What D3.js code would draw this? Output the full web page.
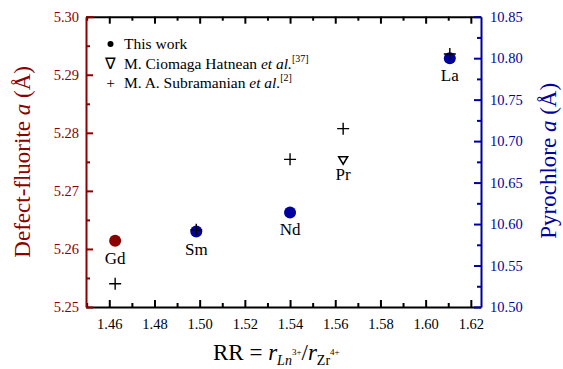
<!DOCTYPE html>
<html><head><meta charset="utf-8">
<script src="https://cdn.jsdelivr.net/npm/d3@7"></script>
<style>
html,body{margin:0;padding:0;background:#fff;}
svg, svg text, svg tspan { font-family: 'Liberation Serif', 'Times New Roman', serif !important; }
</style></head>
<body><svg id="c" width="563" height="369" font-family="Liberation Serif"></svg>
<script>
// ---- data ----
const elements = ["Gd", "Sm", "Nd", "Pr", "La"];
const rr = [1.4626, 1.4985, 1.5400, 1.5635, 1.6107];
// which lattice each element belongs to: left axis = defect fluorite, right = pyrochlore
const phase = ["fluorite", "pyrochlore", "pyrochlore", "pyrochlore", "pyrochlore"];
// This work (null = not measured)
const thisWork = [5.2614, 10.591, 10.614, null, 10.800];
// M. Ciomaga Hatnean et al.
const hatnean = [null, null, null, 10.677, null];
// M. A. Subramanian et al.
const subramanian = [5.2540, 10.593, 10.678, 10.715, 10.805];
const xTicks = [1.46, 1.48, 1.50, 1.52, 1.54, 1.56, 1.58, 1.60, 1.62];
const leftTicks = [5.25, 5.26, 5.27, 5.28, 5.29, 5.30];
const rightTicks = [10.50, 10.55, 10.60, 10.65, 10.70, 10.75, 10.80, 10.85];

const FONT = "Liberation Serif";
const RED = "#8b0000", BLUE = "#0000a0";
const svg = d3.select("#c");
const L = 86, R = 481, T = 16.7, B = 307;
const x = d3.scaleLinear().domain([1.4497, 1.6245]).range([L, R]);
const yL = d3.scaleLinear().domain([5.25, 5.30]).range([B, T]);
const yR = d3.scaleLinear().domain([10.50, 10.85]).range([B, T]);
const yOf = (i, v) => phase[i] === "fluorite" ? yL(v) : yR(v);

function styleAxis(g, color, w) {
  g.attr("font-family", FONT).attr("font-size", 14.5);
  g.selectAll("path").attr("stroke", color).attr("stroke-width", w);
  g.selectAll("line").attr("stroke", color).attr("stroke-width", 2);
  g.selectAll("text").attr("fill", color).attr("font-family", FONT).style("font-family", FONT).attr("font-size", 14.5);
}
const xMinor = d3.range(1.45, 1.625, 0.01).map(v => +v.toFixed(3)).filter(v => !xTicks.some(t => Math.abs(t - v) < 1e-6));
const lMinor = [5.255, 5.265, 5.275, 5.285, 5.295];
const rMinor = [10.525, 10.575, 10.625, 10.675, 10.725, 10.775, 10.825];

// minor ticks
svg.append("g").attr("transform", `translate(0,${B})`)
  .call(d3.axisBottom(x).tickValues(xMinor).tickSize(-4).tickFormat("")).call(g => { g.select("path").remove(); g.selectAll("text").remove(); styleAxis(g, "#000", 2); });
svg.append("g").attr("transform", `translate(0,${T})`)
  .call(d3.axisTop(x).tickValues(xMinor).tickSize(-4).tickFormat("")).call(g => { g.select("path").remove(); g.selectAll("text").remove(); styleAxis(g, "#000", 2); });
svg.append("g").attr("transform", `translate(${L},0)`)
  .call(d3.axisLeft(yL).tickValues(lMinor).tickSize(-4).tickFormat("")).call(g => { g.select("path").remove(); g.selectAll("text").remove(); styleAxis(g, RED, 2); });
svg.append("g").attr("transform", `translate(${R},0)`)
  .call(d3.axisRight(yR).tickValues(rMinor).tickSize(-4).tickFormat("")).call(g => { g.select("path").remove(); g.selectAll("text").remove(); styleAxis(g, BLUE, 2); });

// top & bottom (black)
svg.append("g").attr("transform", `translate(0,${T})`)
  .call(d3.axisTop(x).tickValues(xTicks).tickSize(-7).tickSizeOuter(0).tickFormat(""))
  .call(g => { g.selectAll("text").remove(); styleAxis(g, "#000", 2); });
svg.append("g").attr("transform", `translate(0,${B})`)
  .call(d3.axisBottom(x).tickValues(xTicks).tickSize(-7).tickSizeOuter(0).tickPadding(12).tickFormat(d3.format(".2f")))
  .call(g => styleAxis(g, "#000", 2));
// left (red) & right (blue)
svg.append("g").attr("transform", `translate(${L},0)`)
  .call(d3.axisLeft(yL).tickValues(leftTicks).tickSize(-7).tickSizeOuter(0).tickPadding(7).tickFormat(d3.format(".2f")))
  .call(g => styleAxis(g, RED, 2));
svg.append("g").attr("transform", `translate(${R},0)`)
  .call(d3.axisRight(yR).tickValues(rightTicks).tickSize(-7).tickSizeOuter(0).tickPadding(9).tickFormat(d3.format(".2f")))
  .call(g => styleAxis(g, BLUE, 2));

// axis titles
const lt = svg.append("text").attr("transform", `translate(30,${(T + B) / 2}) rotate(-90)`)
  .attr("text-anchor", "middle").attr("fill", RED).attr("font-size", 23).style("font-family", FONT);
lt.append("tspan").text("Defect-fluorite ");
lt.append("tspan").attr("font-style", "italic").text("a");
lt.append("tspan").text(" (Å)");
const rt = svg.append("text").attr("transform", `translate(556,${(T + B) / 2 - 1}) rotate(-90)`)
  .attr("text-anchor", "middle").attr("fill", BLUE).attr("font-size", 23).style("font-family", FONT);
rt.append("tspan").text("Pyrochlore ");
rt.append("tspan").attr("font-style", "italic").text("a");
rt.append("tspan").text(" (Å)");
const bt = svg.append("text").attr("x", 213).attr("y", 360).attr("fill", "#000").attr("font-size", 23).style("font-family", FONT);
bt.append("tspan").text("RR = ");
bt.append("tspan").attr("font-style", "italic").text("r");
bt.append("tspan").attr("font-style", "italic").attr("font-size", 14).attr("dy", 5).text("Ln");
bt.append("tspan").attr("font-size", 9).attr("dy", -10).text("3+");
bt.append("tspan").attr("dy", 5).text("/");
bt.append("tspan").attr("font-style", "italic").text("r");
bt.append("tspan").attr("font-size", 14).attr("dy", 5).text("Zr");
bt.append("tspan").attr("font-size", 9).attr("dy", -10).text("4+");

// data marks
const plot = svg.append("g");
elements.forEach((el, i) => {
  const col = phase[i] === "fluorite" ? RED : BLUE;
  if (thisWork[i] != null) {
    plot.append("circle").attr("cx", x(rr[i])).attr("cy", yOf(i, thisWork[i])).attr("r", 6).attr("fill", col);
  }
  if (subramanian[i] != null) {
    const cx = x(rr[i]), cy = yOf(i, subramanian[i]);
    plot.append("path").attr("d", `M${cx - 6},${cy}H${cx + 6}M${cx},${cy - 6}V${cy + 6}`)
      .attr("stroke", "#000").attr("stroke-width", 1.4).attr("fill", "none");
  }
  if (hatnean[i] != null) {
    const cx = x(rr[i]), cy = yOf(i, hatnean[i]);
    plot.append("path").attr("d", `M${cx - 4.5},${cy - 3.5}H${cx + 4.5}L${cx},${cy + 4}Z`)
      .attr("stroke", "#000").attr("stroke-width", 1.5).attr("fill", "none");
  }
  const base = thisWork[i] != null ? thisWork[i] : hatnean[i];
  plot.append("text").attr("x", x(rr[i])).attr("y", yOf(i, base) + (thisWork[i] != null ? 23 : 20))
    .attr("text-anchor", "middle").attr("font-size", 17).style("font-family", FONT).attr("fill", "#000").text(el);
});

// legend
const lg = svg.append("g");
const lx = 110.5, ltx = 124, rows = [49, 68.5, 88];
const lgText = (xx, yy) => lg.append("text").attr("x", xx).attr("y", yy).attr("font-size", 15.5).style("font-family", FONT);
lg.append("circle").attr("cx", lx).attr("cy", rows[0] - 5).attr("r", 3).attr("fill", "#000");
lgText(ltx, rows[0]).text("This work");
lgText(lx, rows[1]).attr("text-anchor", "middle").text("∇");
const t2 = lgText(ltx, rows[1]);
t2.append("tspan").text("M. Ciomaga Hatnean ");
t2.append("tspan").attr("font-style", "italic").text("et al.");
t2.append("tspan").attr("font-size", 10).attr("dy", -7).text("[37]");
lgText(lx, rows[2]).attr("text-anchor", "middle").text("+");
const t3 = lgText(ltx, rows[2]);
t3.append("tspan").text("M. A. Subramanian ");
t3.append("tspan").attr("font-style", "italic").text("et al.");
t3.append("tspan").attr("font-size", 10).attr("dy", -7).text("[2]");
</script></body></html>
